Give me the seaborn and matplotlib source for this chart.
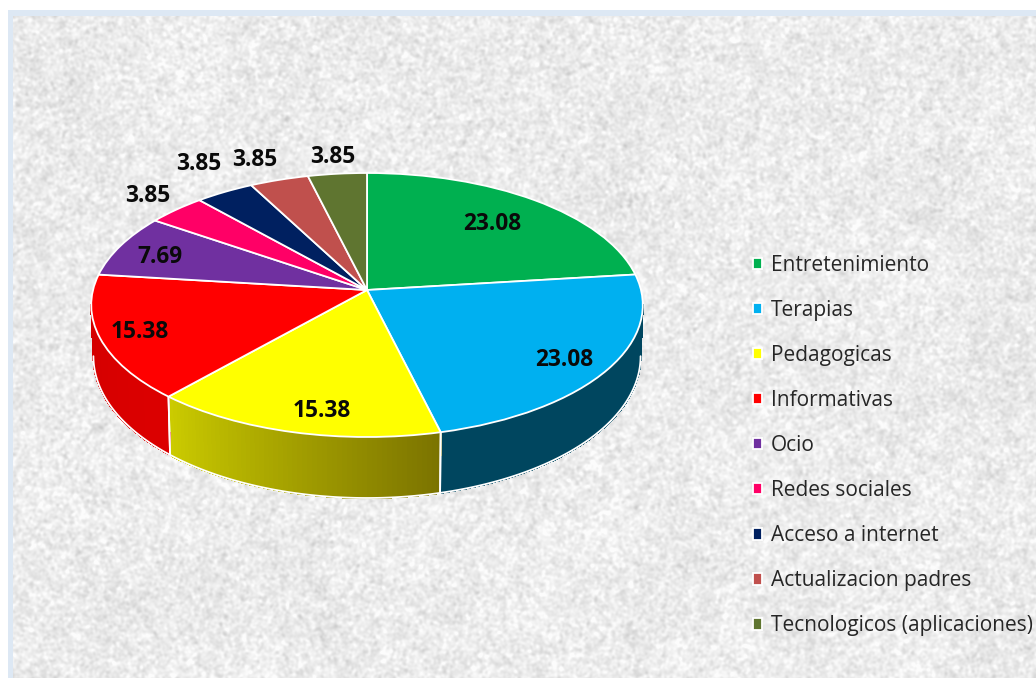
import numpy as np
import seaborn as sns
from matplotlib import pyplot as plt
from matplotlib.collections import PolyCollection
from matplotlib.colors import to_rgb
from matplotlib.transforms import Transform

categories = [
    'Entretenimiento', 'Terapias', 'Pedagogicas', 'Informativas', 'Ocio',
    'Redes sociales', 'Acceso a internet', 'Actualizacion padres',
    'Tecnologicos (aplicaciones)',
]
values = [23.08, 23.08, 15.38, 15.38, 7.69, 3.85, 3.85, 3.85, 3.85]
slice_colors = [
    '#00B050', '#00B0F0', '#FFFF00', '#FF0000', '#7030A0',
    '#FF0066', '#002060', '#C0504D', '#5F7530',
]
# side wall colours of the slices that show a wall (right end, left end)
wall_colors = {
    1: ('#00465F', '#00465F'),
    2: ('#7B7300', '#CBCB00'),
    3: ('#DC0000', '#D40000'),
}
label_centers = [
    (492, 224), (564, 360), (322, 411), (140, 332), (160, 257),
    (148, 196), (199, 164), (255, 160), (333, 157),
]


class TiltTransform(Transform):
    """Perspective view of the unit circle, output in image pixels."""
    input_dims = 2
    output_dims = 2
    is_separable = False
    has_inverse = False

    def transform_non_affine(self, values):
        values = np.asarray(values, dtype=float)
        u = values[:, 0]
        v = -values[:, 1]
        w = 1 - 0.1136 * v
        return np.column_stack([367 + 274 * u / w, 290 + 130.3 * v / w])


def rim_points(tilt, angles):
    rad = np.radians(angles)
    return tilt.transform(np.column_stack([np.cos(rad), np.sin(rad)]))


def lower_rim(tilt, angles):
    # the bottom face sits a bit lower at the front than at the sides
    pts = rim_points(tilt, angles)
    depth = 50 + 11 * -np.sin(np.radians(angles))
    return np.column_stack([367 + (pts[:, 0] - 367) * 0.992, pts[:, 1] + depth])


def paper_texture(rng, height, width):
    # decorative paper background, not chart data
    fy = np.fft.fftfreq(height)[:, None]
    fx = np.fft.rfftfreq(width)[None, :]
    def blurred(sigma):
        noise = np.fft.rfft2(rng.normal(size=(height, width)))
        kernel = np.exp(-2 * (np.pi * sigma) ** 2 * (fx ** 2 + fy ** 2))
        out = np.fft.irfft2(noise * kernel, s=(height, width))
        return out / out.std()
    tex = 236 + 7 * blurred(1.3) + 2 * blurred(5) + 1.5 * blurred(30)
    return np.clip(tex, 195, 252) / 255


sns.set_theme(style='white')
plt.rcParams['font.family'] = ['Open Sans', 'DejaVu Sans']
palette = sns.color_palette(slice_colors)

fig = plt.figure(figsize=(10.36, 6.78), dpi=100, facecolor='white')
axes = fig.add_axes([0, 0, 1, 1])

wedges, _ = axes.pie(
    values,
    colors=palette,
    startangle=90,
    counterclock=False,
    wedgeprops={'edgecolor': 'white', 'linewidth': 1.3, 'zorder': 4},
)
axes.set_aspect('auto')
axes.axis('off')

tilt = TiltTransform()
for wedge in wedges:
    wedge.set_transform(tilt + axes.transData)

# background: white margin, pale blue border, paper texture
rng = np.random.default_rng(7)
axes.imshow(
    np.full((678, 1036, 3), (0.87, 0.91, 0.96)), extent=(8, 1036, 678, 10),
    aspect='auto', zorder=0,
)
tex = paper_texture(rng, 678 - 16, 1036 - 13)
axes.imshow(
    np.dstack([tex, tex, tex]), extent=(13, 1036, 678, 16),
    aspect='auto', zorder=1,
)
axes.set_xlim(0, 1036)
axes.set_ylim(678, 0)

# side walls, built from the wedge angles of the pie
first_visible, last_visible = -173.5, -6.5
for idx, wedge in enumerate(wedges):
    lo = max(wedge.theta1, first_visible)
    hi = min(wedge.theta2, last_visible)
    if lo >= hi or idx not in wall_colors:
        continue
    right, left = [np.array(to_rgb(c)) for c in wall_colors[idx]]
    angles = np.linspace(hi, lo, 60)
    top = rim_points(tilt, angles)
    bottom = lower_rim(tilt, angles)
    strips = [
        [top[i], top[i + 1], bottom[i + 1], bottom[i]]
        for i in range(len(angles) - 1)
    ]
    shades = [right + (left - right) * i / (len(strips) - 1) for i in range(len(strips))]
    axes.add_collection(PolyCollection(
        strips, facecolors=shades, edgecolors=shades, linewidths=0.8,
        antialiaseds=False, zorder=2,
    ), autolim=False)
    axes.plot(bottom[:, 0], bottom[:, 1], color='white', lw=1.3, zorder=3)
    for end in (hi, lo):
        if first_visible < end < last_visible:
            seam = np.vstack([rim_points(tilt, np.array([end])),
                              lower_rim(tilt, np.array([end]))])
            axes.plot(seam[:, 0], seam[:, 1], color='white', lw=1.3, zorder=3)

for value, (x, y) in zip(values, label_centers):
    axes.text(
        x, y, f'{value:.2f}', ha='center', va='center', fontsize=16.3,
        fontweight='bold', color='#0A0A0A', zorder=5,
    )

legend = axes.legend(
    wedges, categories,
    loc='upper left',
    bbox_to_anchor=(753, 255),
    bbox_transform=axes.transData,
    frameon=False,
    fontsize=15,
    labelspacing=1.155,
    handlelength=0.45,
    handleheight=0.45,
    handletextpad=0.41,
    borderpad=0,
    borderaxespad=0,
    labelcolor='#262626',
)
legend.set_zorder(6)

fig.savefig('out.png', dpi=100)
